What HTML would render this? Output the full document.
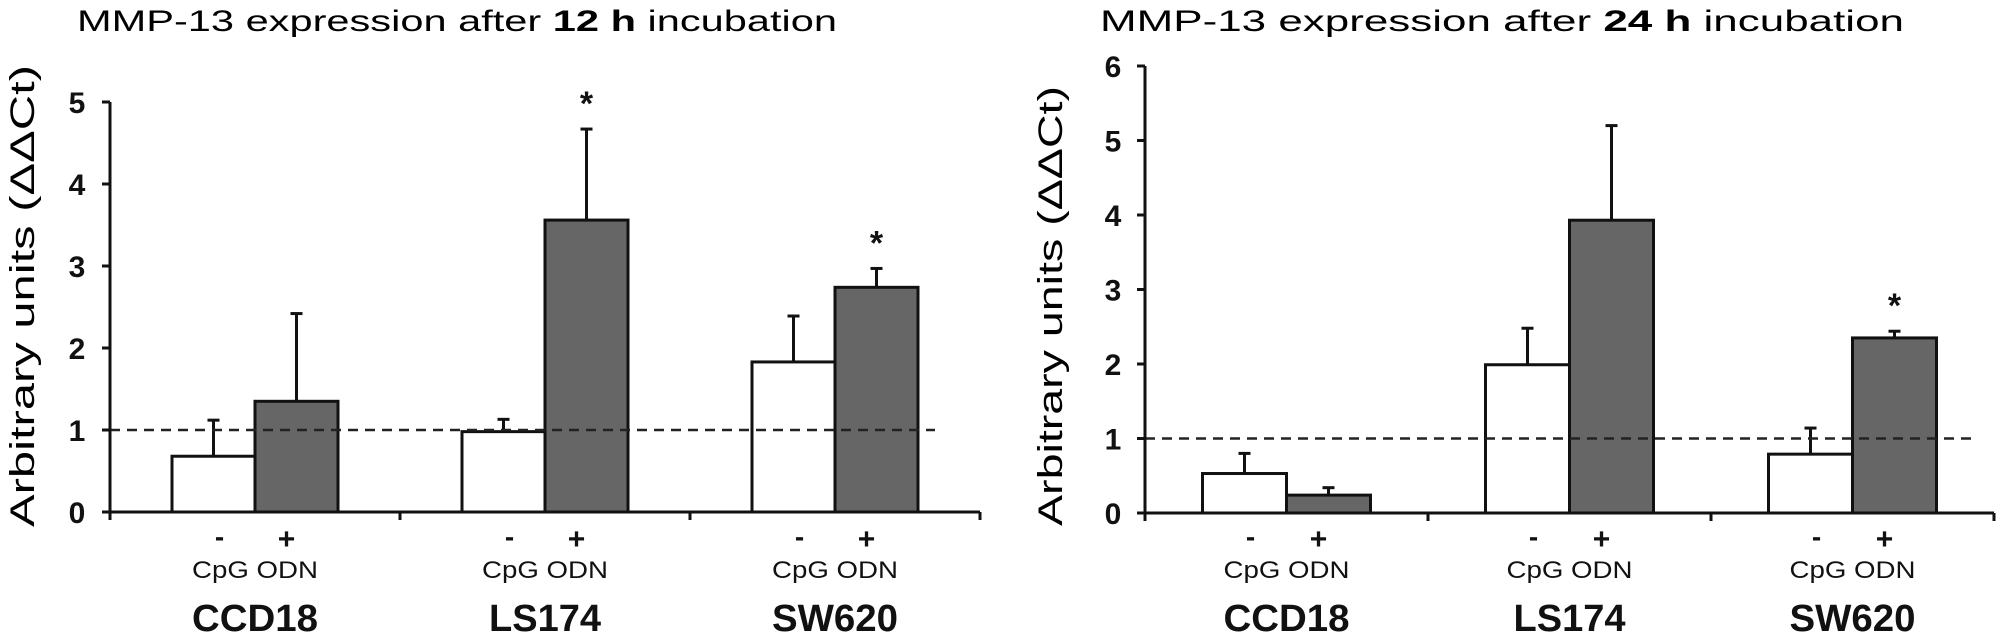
<!DOCTYPE html>
<html><head><meta charset="utf-8"><style>
html,body{margin:0;padding:0;background:#fff;}
svg{display:block;font-family:"Liberation Sans",sans-serif;}
</style></head><body>
<svg id="fig" width="1997" height="637" viewBox="0 0 1997 637" xmlns="http://www.w3.org/2000/svg">
<text x="77" y="31" font-size="30" textLength="760" lengthAdjust="spacingAndGlyphs">MMP-13 expression after <tspan font-weight="bold">12 h</tspan> incubation</text>
<text x="1100" y="31" font-size="30" textLength="804" lengthAdjust="spacingAndGlyphs">MMP-13 expression after <tspan font-weight="bold">24 h</tspan> incubation</text>
<text transform="translate(34,296) rotate(-90)" text-anchor="middle" font-size="34" textLength="462" lengthAdjust="spacingAndGlyphs">Arbitrary units (ΔΔCt)</text>
<text transform="translate(1062,306) rotate(-90)" text-anchor="middle" font-size="34" textLength="440" lengthAdjust="spacingAndGlyphs">Arbitrary units (ΔΔCt)</text>
<g id="left"></g>
<g id="right"></g>
</svg>
<script>
var categories = ["CCD18", "LS174", "SW620"];
var leftControl = [0.68, 0.98, 1.83];
var leftControlErr = [1.12, 1.13, 2.39];
var leftCpg = [1.35, 3.56, 2.74];
var leftCpgErr = [2.42, 4.67, 2.97];
var leftStars = [false, true, true];
var leftTicks = [0, 1, 2, 3, 4, 5];
var rightControl = [0.53, 1.99, 0.79];
var rightControlErr = [0.8, 2.48, 1.14];
var rightCpg = [0.24, 3.93, 2.35];
var rightCpgErr = [0.34, 5.2, 2.44];
var rightStars = [false, false, true];
var rightTicks = [0, 1, 2, 3, 4, 5, 6];
var refLine = 1;

var NS = "http://www.w3.org/2000/svg";
function mk(parent, tag, attrs, txt) {
  var e = document.createElementNS(NS, tag);
  for (var k in attrs) e.setAttribute(k, attrs[k]);
  if (txt !== undefined) e.textContent = txt;
  parent.appendChild(e);
  return e;
}
function draw(gid, cfg, ctrl, ctrlErr, cpg, cpgErr, stars, ticks) {
  var g = document.getElementById(gid);
  function y(v) { return cfg.y0 - v * cfg.unit; }
  var gw = (cfg.xEnd - cfg.x0) / categories.length;
  function gx(i) { return cfg.x0 + gw * (i + 0.5); }
  ticks.forEach(function (t) {
    var l = mk(g, "line", {x1: cfg.x0 - 8, x2: cfg.x0, y1: y(t), y2: y(t), stroke: "#111", "stroke-width": 3});
    
    
    var tl = mk(g, "text", {x: cfg.labX, y: y(t) + 11, "text-anchor": "middle", "font-size": 30, "font-weight": "bold", fill: "#111"}, String(t));
    
    
  });
  for (var i = 0; i < categories.length; i++) {
    var c = gx(i);
    var pairs = [[ctrl[i], ctrlErr[i], c - cfg.bw, "#fff", "control"], [cpg[i], cpgErr[i], c, "#666", "cpg"]];
    pairs.forEach(function (p) {
      var ex = p[2] + cfg.bw / 2;
      var el = mk(g, "line", {x1: ex, x2: ex, y1: y(p[0]), y2: y(p[1]), stroke: "#111", "stroke-width": 3});
      
      
      var cap = mk(g, "line", {x1: ex - 6, x2: ex + 6, y1: y(p[1]), y2: y(p[1]), stroke: "#111", "stroke-width": 3});
      
      
      var r = mk(g, "rect", {x: p[2], y: y(p[0]), width: cfg.bw, height: cfg.y0 - y(p[0]), fill: p[3], stroke: "#111", "stroke-width": 3});
      
      
    });
    if (stars[i]) {
      var s = mk(g, "text", {x: c + cfg.bw / 2, y: y(cpgErr[i]) - 14, "text-anchor": "middle", "font-size": 34, "font-weight": "bold", fill: "#111"}, "*");
      
      
    }
    var m = mk(g, "text", {x: c - cfg.bw / 2 + 6, y: 546, "text-anchor": "middle", "font-size": 28, "font-weight": "bold", fill: "#111"}, "-");
    
    
    var pl = mk(g, "text", {x: c + cfg.bw / 2 - 10, y: 549, "text-anchor": "middle", "font-size": 30, "font-weight": "bold", fill: "#111"}, "+");
    
    
    var cp = mk(g, "text", {x: c - 63, y: 578, "font-size": 24, fill: "#111", textLength: 126, lengthAdjust: "spacingAndGlyphs"}, "CpG ODN");
    
    
    var cn = mk(g, "text", {x: c, y: 631, "text-anchor": "middle", "font-size": 38, "font-weight": "bold", fill: "#111", textLength: categories[i] === "LS174" ? 112 : 126, lengthAdjust: "spacingAndGlyphs"}, categories[i]);
    
    
  }
  var d = mk(g, "line", {x1: cfg.x0, x2: cfg.dashEnd, y1: y(refLine), y2: y(refLine), stroke: "#222", "stroke-width": 2.5, "stroke-dasharray": "10,7"});
  
  
  var ya = mk(g, "line", {x1: cfg.x0, x2: cfg.x0, y1: y(ticks[ticks.length - 1]), y2: cfg.y0, stroke: "#111", "stroke-width": 3});
  
  
  var xa = mk(g, "line", {x1: cfg.x0 - 8, x2: cfg.xEnd, y1: cfg.y0, y2: cfg.y0, stroke: "#111", "stroke-width": 3});
  
  
  for (var j = 0; j <= categories.length; j++) {
    var xt = mk(g, "line", {x1: cfg.x0 + gw * j, x2: cfg.x0 + gw * j, y1: cfg.y0, y2: cfg.y0 + 8, stroke: "#111", "stroke-width": 3});
    
    
  }
}
draw("left", {x0: 110, xEnd: 980, y0: 512, unit: 82, bw: 83, labX: 77, dashEnd: 935}, leftControl, leftControlErr, leftCpg, leftCpgErr, leftStars, leftTicks);
draw("right", {x0: 1145, xEnd: 1994, y0: 513, unit: 74.5, bw: 84, labX: 1113, dashEnd: 1974}, rightControl, rightControlErr, rightCpg, rightCpgErr, rightStars, rightTicks);
</script>
</body></html>
